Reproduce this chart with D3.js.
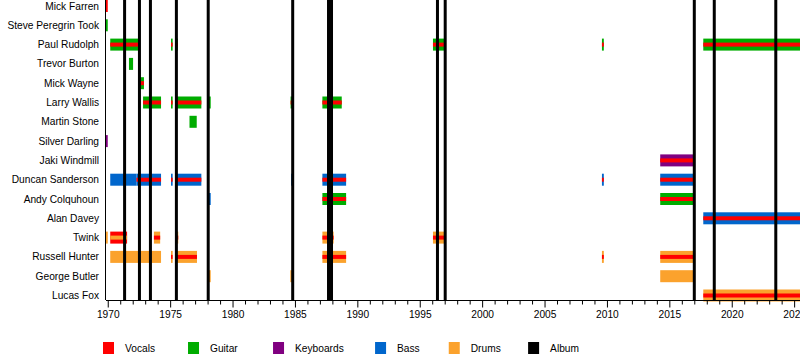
<!DOCTYPE html>
<html>
<head>
<meta charset="utf-8">
<script src="https://cdn.jsdelivr.net/npm/d3@7"></script>
<style>
  html, body { margin: 0; padding: 0; background: #fff; }
  svg { display: block; }
  text { font-family: "Liberation Sans", Arial, sans-serif; font-size: 10.2px; fill: #000; }
</style>
</head>
<body>
<svg id="chart" width="800" height="360"></svg>
<script>
// ---------- DATA ----------
const members = [
  "Mick Farren", "Steve Peregrin Took", "Paul Rudolph", "Trevor Burton",
  "Mick Wayne", "Larry Wallis", "Martin Stone", "Silver Darling",
  "Jaki Windmill", "Duncan Sanderson", "Andy Colquhoun", "Alan Davey",
  "Twink", "Russell Hunter", "George Butler", "Lucas Fox"
];
const roles = ["Vocals", "Guitar", "Keyboards", "Bass", "Drums", "Album"];
const roleColors = ["#ff0000", "#00ac00", "#800080", "#0066cc", "#fba22d", "#000000"];

const periodStart = 1969.86;
const periodEnd = 2025.47;

// [member, from, till, main role, stripe role]
const stints = [
  ["Mick Farren", periodStart, 1970.0, "Vocals", null],
  ["Steve Peregrin Took", periodStart, 1970.0, "Guitar", null],
  ["Silver Darling", periodStart, 1970.0, "Keyboards", null],
  ["Twink", periodStart, 1970.0, "Drums", null],

  ["Paul Rudolph", 1970.2, 1972.43, "Guitar", "Vocals"],
  ["Paul Rudolph", 1975.07, 1975.2, "Guitar", "Vocals"],
  ["Paul Rudolph", 1975.45, 1975.62, "Guitar", "Vocals"],
  ["Paul Rudolph", 1996.06, 1997.08, "Guitar", "Vocals"],
  ["Paul Rudolph", 2009.6, 2009.75, "Guitar", "Vocals"],
  ["Paul Rudolph", 2017.72, periodEnd, "Guitar", "Vocals"],

  ["Trevor Burton", 1971.7, 1972.03, "Guitar", null],
  ["Mick Wayne", 1972.6, 1972.9, "Guitar", "Vocals"],

  ["Larry Wallis", 1972.83, 1974.27, "Guitar", "Vocals"],
  ["Larry Wallis", 1975.07, 1975.2, "Guitar", "Vocals"],
  ["Larry Wallis", 1975.45, 1977.5, "Guitar", "Vocals"],
  ["Larry Wallis", 1978.0, 1978.25, "Guitar", null],
  ["Larry Wallis", 1984.65, 1984.86, "Guitar", "Vocals"],
  ["Larry Wallis", 1987.2, 1988.75, "Guitar", "Vocals"],

  ["Martin Stone", 1976.55, 1977.13, "Guitar", null],

  ["Jaki Windmill", 2014.27, 2017.05, "Keyboards", "Vocals"],

  ["Duncan Sanderson", 1970.2, 1972.3, "Bass", null],
  ["Duncan Sanderson", 1972.3, 1974.27, "Bass", "Vocals"],
  ["Duncan Sanderson", 1975.07, 1975.2, "Bass", "Vocals"],
  ["Duncan Sanderson", 1975.5, 1977.5, "Bass", "Vocals"],
  ["Duncan Sanderson", 1984.7, 1984.86, "Bass", null],
  ["Duncan Sanderson", 1987.2, 1989.1, "Bass", "Vocals"],
  ["Duncan Sanderson", 2009.6, 2009.75, "Bass", "Vocals"],
  ["Duncan Sanderson", 2014.27, 2017.05, "Bass", "Vocals"],

  ["Andy Colquhoun", 1978.0, 1978.25, "Bass", null],
  ["Andy Colquhoun", 1987.2, 1989.1, "Guitar", "Vocals"],
  ["Andy Colquhoun", 2014.27, 2017.05, "Guitar", "Vocals"],

  ["Alan Davey", 2017.72, periodEnd, "Bass", "Vocals"],

  ["Twink", 1970.2, 1971.55, "Vocals", "Drums"],
  ["Twink", 1973.7, 1974.2, "Drums", "Vocals"],
  ["Twink", 1975.5, 1975.65, "Drums", "Vocals"],
  ["Twink", 1987.2, 1988.1, "Drums", "Vocals"],
  ["Twink", 1996.06, 1997.08, "Drums", "Vocals"],

  ["Russell Hunter", 1970.2, 1974.27, "Drums", null],
  ["Russell Hunter", 1975.07, 1975.2, "Drums", "Vocals"],
  ["Russell Hunter", 1975.5, 1977.15, "Drums", "Vocals"],
  ["Russell Hunter", 1987.2, 1989.1, "Drums", "Vocals"],
  ["Russell Hunter", 2009.6, 2009.75, "Drums", "Vocals"],
  ["Russell Hunter", 2014.27, 2017.05, "Drums", "Vocals"],

  ["George Butler", 1978.0, 1978.25, "Drums", null],
  ["George Butler", 1984.63, 1984.82, "Drums", null],
  ["George Butler", 2014.27, 2017.05, "Drums", null],

  ["Lucas Fox", 2017.72, periodEnd, "Drums", "Vocals"]
];

const albums = [1971.35, 1972.54, 1973.42, 1975.5, 1978.05, 1984.82,
                1987.69, 1987.93, 1996.42, 1997.04, 2017.0, 2018.6, 2023.53];

const tickYears = d3.range(1970, 2026);
const tickLabels = ["1970", "1975", "1980", "1985", "1990", "1995", "2000",
                    "2005", "2010", "2015", "2020", "2025"];

// ---------- LAYOUT ----------
const plotLeft = 106, plotRight = 800, plotBottom = 300;
const svg = d3.select("#chart");
const color = d3.scaleOrdinal().domain(roles).range(roleColors);
const x = d3.scaleLinear().domain([periodStart, periodEnd]).range([plotLeft, plotRight]);
const y = d3.scalePoint().domain(members).range([6, 295.5]);
const barH = 12, stripeH = 4, albumW = 3;

const plot = svg.append("g");

// bars
plot.selectAll("rect.bar").data(stints).join("rect")
  .attr("class", "bar")
  .attr("x", d => x(d[1]))
  .attr("width", d => Math.max(0.5, x(d[2]) - x(d[1])))
  .attr("y", d => y(d[0]) - barH / 2)
  .attr("height", barH)
  .attr("fill", d => color(d[3]));

plot.selectAll("rect.stripe").data(stints.filter(d => d[4])).join("rect")
  .attr("class", "stripe")
  .attr("x", d => x(d[1]))
  .attr("width", d => Math.max(0.5, x(d[2]) - x(d[1])))
  .attr("y", d => y(d[0]) - stripeH / 2)
  .attr("height", stripeH)
  .attr("fill", d => color(d[4]));

// album lines
plot.selectAll("rect.album").data(albums).join("rect")
  .attr("class", "album")
  .attr("x", d => x(d) - albumW / 2)
  .attr("width", albumW)
  .attr("y", 0)
  .attr("height", plotBottom)
  .attr("fill", color("Album"));

// left axis line
svg.append("line")
  .attr("x1", plotLeft - 0.5).attr("x2", plotLeft - 0.5)
  .attr("y1", 0).attr("y2", plotBottom)
  .attr("stroke", "#000").attr("stroke-width", 1);

// member labels
svg.selectAll("text.member").data(members).join("text")
  .attr("class", "member")
  .attr("x", 99)
  .attr("y", d => y(d))
  .attr("dy", "0.35em")
  .attr("text-anchor", "end")
  .text(d => d);

// bottom axis
const axis = d3.axisBottom(x)
  .tickValues(tickYears)
  .tickSize(4)
  .tickSizeOuter(0)
  .tickPadding(5)
  .tickFormat(d => tickLabels.includes(String(d)) ? String(d) : "");
const gAxis = svg.append("g")
  .attr("transform", `translate(0,${plotBottom + 0.5})`)
  .call(axis);
gAxis.select(".domain").attr("d", `M${plotLeft},0H${plotRight}`).attr("stroke", "#000");
gAxis.selectAll(".tick line")
  .attr("stroke", "#000")
  .attr("y2", d => d % 5 === 0 ? 7 : 4);
gAxis.selectAll(".tick text")
  .attr("y", 10.5)
  .style("font-family", "'Liberation Sans', Arial, sans-serif")
  .style("font-size", "10.2px")
  .attr("fill", "#000");

// legend (entry spacing grows with the label's character count)
const legend = svg.append("g");
let lx = 103;
roles.forEach(r => {
  legend.append("rect")
    .attr("x", lx).attr("y", 342)
    .attr("width", 11).attr("height", 12)
    .attr("fill", color(r));
  legend.append("text")
    .attr("x", lx + 22).attr("y", 348.5)
    .attr("dy", "0.35em")
    .text(r);
  lx += 51 + 5.67 * r.length;
});
</script>
</body>
</html>
